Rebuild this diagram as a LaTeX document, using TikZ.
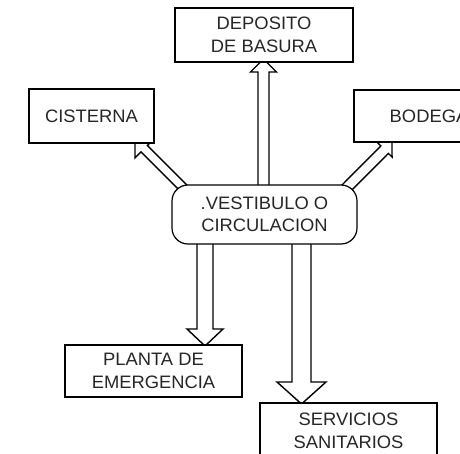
\documentclass[tikz,border=0pt]{standalone}
\usepackage{fontspec}
\setmainfont{Liberation Sans}[FakeStretch=1.02]
\usetikzlibrary{calc}
\pgfdeclarelayer{bg}
\pgfsetlayers{bg,main}
\tikzset{
  box/.style={draw, line width=1.6pt, fill=white, rectangle, align=center, inner sep=0pt,
    font=\fontsize{18}{23}\selectfont, text=black!85},
  hubbox/.style={box, line width=1.2pt, rounded corners=16pt, font=\fontsize{18}{22}\selectfont},
  fatarrow/.style={draw, line width=1.4pt, fill=white, line join=miter}
}
% #1 start, #2 tip, #3 shaft half width, #4 head half width, #5 head length
\newcommand{\fatarr}[5]{%
  \coordinate (fa-b) at ($(#2)!#5!(#1)$);
  \draw[fatarrow] ($(#1)!#3!90:(#2)$) -- ($(fa-b)!#3!90:(#2)$) -- ($(fa-b)!#4!90:(#2)$)
    -- (#2) -- ($(fa-b)!#4!-90:(#2)$) -- ($(fa-b)!#3!-90:(#2)$) -- ($(#1)!#3!-90:(#2)$) -- cycle;
}
\begin{document}
\begin{tikzpicture}[x=1pt,y=-1pt]
\useasboundingbox (0,0) rectangle (460,454);
\clip (0,0) rectangle (460,454);
% nodes
\node[box, minimum width=178pt, minimum height=54pt] (dep) at (264,35) {DEPOSITO\\DE BASURA};
\node[box, minimum width=125pt, minimum height=54pt] (cis) at (91.5,116) {CISTERNA};
\node[box, minimum width=150pt, minimum height=52pt] (bod) at (429,116) {BODEGA};
\node[hubbox, minimum width=185pt, minimum height=59pt] (vest) at (264.5,214.5) {.VESTIBULO O\\CIRCULACION};
\node[box, minimum width=177pt, minimum height=52pt] (pla) at (153.5,371) {PLANTA DE\\EMERGENCIA};
\node[box, minimum width=177pt, minimum height=55pt] (ser) at (348.5,430.5) {SERVICIOS\\SANITARIOS};
% connector ends
\coordinate (a1s) at (263.5,200);   \coordinate (a1e) at (263.5,59);
\coordinate (a2s) at (205,230);     \coordinate (a2e) at (205,346);
\coordinate (a3s) at (301.5,230);   \coordinate (a3e) at (301.5,404);
\coordinate (a4s) at (195,199.6);   \coordinate (a4e) at (135,139.6);
\coordinate (a5s) at (330,204.6);   \coordinate (a5e) at (392,142.2);
\begin{pgfonlayer}{bg}
\fatarr{a1s}{a1e}{5.5pt}{13pt}{13pt}
\fatarr{a2s}{a2e}{8pt}{18pt}{17pt}
\fatarr{a3s}{a3e}{9.5pt}{24.5pt}{22pt}
\fatarr{a4s}{a4e}{4.5pt}{13pt}{13pt}
\fatarr{a5s}{a5e}{5.3pt}{10.5pt}{10.5pt}
\end{pgfonlayer}
\end{tikzpicture}
\end{document}
